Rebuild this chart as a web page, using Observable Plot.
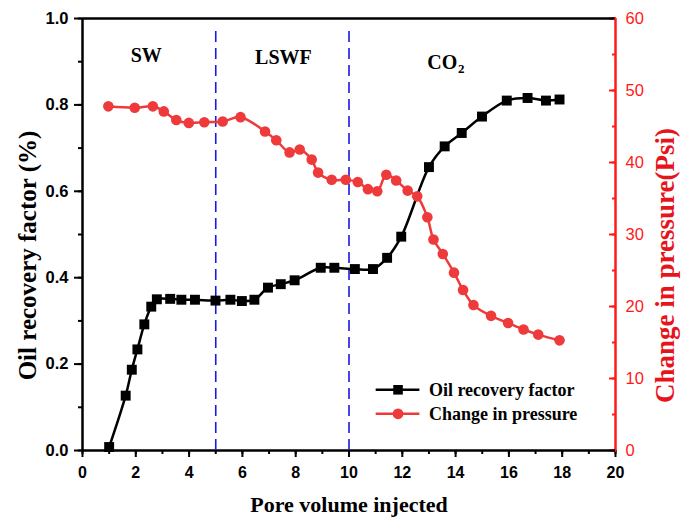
<!DOCTYPE html>
<html>
<head>
<meta charset="utf-8">
<script src="https://cdn.jsdelivr.net/npm/d3@7"></script>
<script src="https://cdn.jsdelivr.net/npm/@observablehq/plot@0.6"></script>
<style>
  body { margin: 0; background: #fff; }
  #chart svg { display: block; }
</style>
</head>
<body>
<div id="chart"></div>
<script>
// Oil recovery factor (left axis)
const recoveryPV = [1.0,1.62,1.85,2.06,2.32,2.58,2.79,3.29,3.71,4.22,4.99,5.55,5.98,6.45,6.96,7.44,7.96,8.94,9.45,10.22,10.9,11.43,11.96,13.0,13.59,14.23,14.99,15.92,16.7,17.39,17.9];
const recoveryValues = [0.008,0.127,0.187,0.234,0.292,0.333,0.35,0.351,0.349,0.349,0.347,0.349,0.346,0.349,0.377,0.385,0.394,0.423,0.423,0.42,0.42,0.446,0.495,0.656,0.704,0.735,0.773,0.81,0.816,0.81,0.8125];
// Change in pressure (right axis, Psi)
const pressurePV = [0.97,1.96,2.64,3.05,3.52,3.99,4.57,5.26,5.93,6.85,7.27,7.77,8.15,8.6,8.84,9.35,9.88,10.33,10.71,11.06,11.4,11.77,12.2,12.56,12.94,13.17,13.52,13.94,14.28,14.67,15.33,15.97,16.55,17.1,17.9];
const pressureValues = [47.8,47.6,47.8,47.1,45.9,45.5,45.6,45.7,46.3,44.3,43.1,41.4,41.8,40.4,38.6,37.6,37.6,37.3,36.3,36.0,38.3,37.5,36.1,35.3,32.4,29.3,27.3,24.7,22.3,20.2,18.7,17.7,16.8,16.1,15.3];
// Stage boundaries and labels
const stageBoundaries = [5, 10];
const stageNames = ["SW", "LSWF", "CO"];
const stageLabelX = [2.39, 7.54, 13.5];
const stageLabelY = [0.914, 0.91, 0.898];
// Axis ticks
const xTicksMajor = [0,2,4,6,8,10,12,14,16,18,20];
const yTicksMajor = [0,0.2,0.4,0.6,0.8,1.0];
const rightTicksMajor = [0,10,20,30,40,50,60];
const rightMax = 60;
// Legend
const legendNames = ["Oil recovery factor", "Change in pressure"];
const legendColors = ["#000000", "#ee3a3a"];
const legendSymbols = ["square", "circle"];
const legendY = [0.1405, 0.085];
const legendX = [11.02, 12.66];
const legendTextX = 13.0;

const recovery = recoveryPV.map((x, i) => ({x, y: recoveryValues[i]}));
const pressure = pressurePV.map((x, i) => ({x, y: pressureValues[i] / rightMax}));
const stages = stageNames.map((label, i) => ({label, x: stageLabelX[i], y: stageLabelY[i]}));
const legend = legendNames.map((name, i) => ({name, color: legendColors[i], symbol: legendSymbols[i], y: legendY[i]}));

const range = (a, b, s) => d3.range(a, b + s / 2, s);
const serif = "Liberation Serif, Times New Roman, serif";
const red = "#ee3a3a";
const axisRed = "#ff1a1a";

const chart = Plot.plot({
  width: 688,
  height: 519,
  marginLeft: 82,
  marginRight: 73,
  marginTop: 18,
  marginBottom: 69,
  style: {fontFamily: "Liberation Sans, Arial, sans-serif", background: "#fff", overflow: "visible"},
  x: {domain: [0, 20]},
  y: {domain: [0, 1]},
  marks: [
    // minor ticks
    Plot.axisX(range(0, 20, 1), {tickSize: 4, strokeWidth: 2, text: null, label: null, color: "black"}),
    Plot.axisX(xTicksMajor, {tickSize: 7, strokeWidth: 2, tickPadding: 9, fontSize: 16, fontWeight: "bold", label: null, color: "black"}),
    Plot.axisY(range(0, 1, 0.1), {tickSize: 4, strokeWidth: 2, text: null, label: null, color: "black"}),
    Plot.axisY(yTicksMajor, {tickSize: 8, strokeWidth: 2, tickPadding: 6, fontSize: 16.5, fontWeight: "bold", tickFormat: d3.format(".1f"), label: null, color: "black"}),
    // right axis (pressure)
    Plot.axisY(range(0, rightMax, 5).map(v => v / rightMax), {anchor: "right", tickSize: 4, insetRight: 4, strokeWidth: 2, text: null, label: null, color: axisRed}),
    Plot.axisY(rightTicksMajor.map(v => v / rightMax), {anchor: "right", tickSize: 7, insetRight: 7, strokeWidth: 2, text: null, label: null, color: axisRed}),
    Plot.axisY(rightTicksMajor.map(v => v / rightMax), {anchor: "right", tickSize: 0, tickPadding: 10, fontSize: 16.5, label: null, color: axisRed, tickFormat: d => Math.round(d * rightMax)}),
    // frame
    Plot.ruleY([1], {stroke: "black", strokeWidth: 2.5}),
    Plot.ruleX([0], {stroke: "black", strokeWidth: 2.5}),
    Plot.ruleX([20], {stroke: axisRed, strokeWidth: 2.5}),
    Plot.ruleY([0], {stroke: "black", strokeWidth: 2.5}),
    // stage boundaries
    Plot.ruleX(stageBoundaries, {y1: 0, y2: 0.981, stroke: "#1a1adf", strokeWidth: 1.6, strokeDasharray: "11,6"}),
    // stage labels
    Plot.text(stages, {x: "x", y: "y", text: "label", fontFamily: serif, fontWeight: "bold", fontSize: 20, fill: "black"}),
    Plot.text(stages.filter(d => d.label === "CO"), {x: "x", y: "y", text: () => "2", dx: 19, dy: 6, fontFamily: serif, fontWeight: "bold", fontSize: 13, fill: "black"}),
    // series
    Plot.line(recovery, {x: "x", y: "y", stroke: "black", strokeWidth: 2.5, curve: "catmull-rom"}),
    Plot.dot(recovery, {x: "x", y: "y", symbol: "square", r: 5.6, fill: "black", stroke: "none"}),
    Plot.line(pressure, {x: "x", y: "y", stroke: red, strokeWidth: 2.5, curve: "catmull-rom"}),
    Plot.dot(pressure, {x: "x", y: "y", r: 5.3, fill: red, stroke: "none"}),
    // legend
    Plot.ruleY(legend, {y: "y", x1: legendX[0], x2: legendX[1], stroke: "color", strokeWidth: 2.5}),
    Plot.dot(legend, {x: (legendX[0] + legendX[1]) / 2, y: "y", symbol: "symbol", r: 5.4, fill: "color", stroke: "none"}),
    Plot.text(legend, {x: legendTextX, y: "y", text: "name", textAnchor: "start", fontFamily: serif, fontWeight: "bold", fontSize: 18, fill: "black"}),
    // axis titles
    Plot.text(["Oil recovery factor (%)"], {frameAnchor: "left", textAnchor: "middle", lineAnchor: "middle", dx: -55, dy: 21, rotate: -90, fontFamily: serif, fontWeight: "bold", fontSize: 25, fill: "black"}),
    Plot.text(["Change in pressure(Psi)"], {frameAnchor: "right", textAnchor: "middle", lineAnchor: "middle", dx: 50, dy: 31, rotate: -90, fontFamily: serif, fontWeight: "bold", fontSize: 27, fill: "#e8141c"}),
    Plot.text(["Pore volume injected"], {frameAnchor: "bottom", textAnchor: "middle", lineAnchor: "middle", dy: 54, fontFamily: serif, fontWeight: "bold", fontSize: 22, fill: "black"})
  ]
});
document.getElementById("chart").append(chart);
</script>
</body>
</html>
